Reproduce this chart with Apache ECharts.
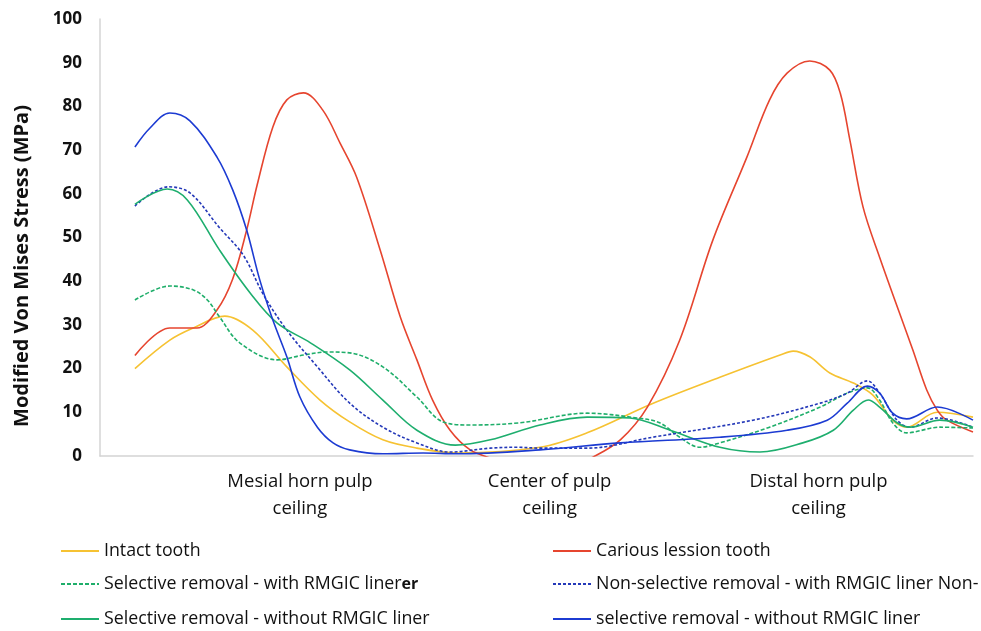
<!DOCTYPE html>
<html>
<head>
<meta charset="utf-8">
<script src="https://cdn.jsdelivr.net/npm/echarts@6/dist/echarts.min.js"></script>
<style>html,body{margin:0;padding:0;background:#fff}#c{width:981px;height:631px}</style>
</head>
<body>
<div id="c"></div>
<script>
// x = relative position along the pulp ceiling (0..100), y = stress (MPa)
const categoryLabels = ['Mesial horn pulp\nceiling', 'Center of pulp\nceiling', 'Distal horn pulp\nceiling'];
const categoryPositions = [22.9, 51.5, 82.3];
const yTicks = [0, 10, 20, 30, 40, 50, 60, 70, 80, 90, 100];

const intactTooth = [[4.0,20.0],[8.0,26.5],[10.7,29.3],[14.3,32.0],[17.5,28.8],[21.4,20.4],[25.2,12.8],[28.6,7.8],[32.4,3.7],[36.3,1.8],[40.9,0.7],[50.4,2.0],[55.8,5.3],[63.3,12.0],[71.0,18.0],[77.9,23.1],[79.4,24.0],[81.3,22.7],[83.6,19.0],[86.3,16.7],[88.5,14.0],[90.8,8.2],[92.4,6.6],[95.9,10.0],[100,8.9]];
const cariousTooth = [[4.0,23.0],[8.0,29.3],[11.1,29.3],[13.4,33.4],[15.2,40.5],[16.8,51.7],[18.0,62.0],[19.8,75.3],[21.4,81.5],[23.3,83.1],[25.5,79.2],[27.5,71.6],[29.4,63.8],[32.1,47.1],[34.4,31.8],[36.3,22.0],[38.1,12.8],[40.1,5.9],[42.4,1.4],[44.7,-0.5],[50.4,-6.0],[56.5,-0.2],[59.6,3.7],[62.7,11.2],[66.4,26.5],[70.2,49.4],[74.1,68.4],[76.7,81.5],[78.7,87.6],[81.3,90.4],[83.6,88.3],[84.8,83.0],[85.9,72.3],[87.4,57.0],[89.3,45.5],[93.1,24.3],[94.7,15.1],[95.9,10.5],[97.0,8.2],[100,5.5]];
const selectiveWith = [[4.0,35.7],[8.0,38.9],[10.7,38.0],[12.3,35.7],[13.7,31.8],[16.0,25.9],[20.3,22.0],[23.3,23.1],[26.0,23.8],[28.6,23.6],[32.4,20.4],[36.3,13.5],[39.3,7.8],[42.4,7.1],[48.1,7.6],[55.8,9.8],[61.5,8.7],[64.1,7.6],[66.4,4.3],[68.7,2.0],[71.0,3.0],[76.7,6.6],[82.5,11.2],[85.6,14.4],[87.9,15.6],[89.3,12.8],[90.8,7.6],[92.4,5.3],[96.2,6.6],[100,6.4]];
const selectiveWithout = [[4.0,57.6],[7.7,61.1],[10.0,58.6],[13.7,47.1],[17.2,37.3],[20.3,30.4],[24.1,25.9],[28.6,19.7],[32.4,12.8],[36.3,5.9],[40.7,2.5],[44.7,3.7],[50.4,7.1],[55.8,8.9],[60.7,8.7],[65.3,5.9],[71.0,2.0],[75.6,0.9],[80.5,3.0],[84.0,5.9],[86.3,10.5],[88.0,12.8],[89.3,11.2],[91.3,7.6],[92.8,6.6],[96.2,8.2],[100,6.6]];
const nonSelectiveWith = [[4.0,57.2],[7.8,61.6],[10.3,60.2],[13.7,52.2],[16.4,46.0],[18.7,37.0],[21.4,28.8],[24.9,20.4],[28.6,12.1],[32.4,6.6],[36.3,3.0],[40.1,0.9],[44.7,1.8],[47.8,2.0],[50.4,1.8],[55.8,1.8],[63.3,4.3],[74.8,8.2],[82.5,12.1],[85.6,14.4],[87.9,17.2],[89.3,14.4],[91.3,8.2],[92.8,6.6],[95.9,8.7],[100,6.6]];
const nonSelectiveWithout = [[4.0,70.7],[5.7,75.0],[8.0,78.5],[10.3,76.7],[13.4,68.4],[15.2,60.9],[16.8,51.7],[18.3,40.3],[19.8,31.1],[21.4,22.7],[22.9,13.5],[24.9,6.6],[26.7,3.0],[28.6,1.4],[32.4,0.5],[37.0,0.7],[40.9,0.5],[50.4,1.4],[59.6,3.0],[71.0,4.3],[78.7,5.9],[83.3,8.2],[85.6,12.1],[87.9,16.0],[89.3,14.4],[90.8,9.8],[92.4,8.5],[95.9,11.2],[100,8.2]];

const seriesDefs = [
  {name:'Intact tooth', data:intactTooth, color:'#F6C232', type:'solid'},
  {name:'Carious lession tooth', data:cariousTooth, color:'#E6452F', type:'solid'},
  {name:'Selective removal - with RMGIC liner', data:selectiveWith, color:'#1FAE6A', type:[4,2]},
  {name:'Non-selective removal - with RMGIC liner Non-', data:nonSelectiveWith, color:'#2438B8', type:[3,2]},
  {name:'Selective removal - without RMGIC liner', data:selectiveWithout, color:'#1EAE6E', type:'solid'},
  {name:'selective removal - without RMGIC liner', data:nonSelectiveWithout, color:'#1C3BD2', type:'solid'}
];

const font = '"Open Sans", "Liberation Sans", sans-serif';
const legendPos = [
  {left:60, top:542},{left:552, top:542},
  {left:60, top:575},{left:552, top:575},
  {left:60, top:610},{left:552, top:610}
];

const chart = echarts.init(document.getElementById('c'), null, {renderer:'canvas'});
chart.setOption({
  animation:false,
  backgroundColor:'#fff',
  grid:{left:100, right:8, top:19, bottom:175, containLabel:false},
  xAxis:{
    type:'value', min:0, max:100,
    splitLine:{show:false},
    axisTick:{show:false},
    axisLine:{show:true, lineStyle:{color:'#d4d4d4', width:1.5}},
    axisLabel:{
      customValues:categoryPositions,
      formatter:function(v){ const i = categoryPositions.indexOf(v); return i >= 0 ? categoryLabels[i] : ''; },
      fontFamily:font, fontSize:18.5, color:'#111', lineHeight:27, margin:12, align:'center'
    }
  },
  yAxis:{
    type:'value', min:yTicks[0], max:yTicks[yTicks.length-1], interval:10,
    splitLine:{show:false},
    axisTick:{show:false},
    axisLine:{show:true, lineStyle:{color:'#d4d4d4', width:1.5}},
    axisLabel:{fontFamily:font, fontSize:17, fontWeight:'bold', color:'#111', margin:18}
  },
  graphic:[{
    type:'text', x:22, y:266, rotation:Math.PI/2,
    style:{text:'Modified Von Mises Stress (MPa)', fontFamily:font, fontSize:20, fontWeight:'bold', fill:'#111', align:'center', verticalAlign:'middle'}
  }],
  legend: seriesDefs.map(function(s, i){
    return {
      data:[s.name], left:legendPos[i].left, top:legendPos[i].top, padding:0,
      itemWidth:38, itemHeight:14, selectedMode:false,
      itemStyle:{opacity:0},
      textStyle:{fontFamily:font, fontSize:17.8, color:'#111', rich:{b:{fontFamily:font, fontSize:16, fontWeight:'bold', color:'#111'}}},
      formatter: i === 2 ? function(n){ return n + '{b|er}'; } : '{name}'
    };
  }),
  series: seriesDefs.map(function(s){
    return {
      name:s.name, type:'line', data:s.data, smooth:0.35, symbol:'none', showSymbol:false, clip:true,
      lineStyle:{color:s.color, width:1.6, type:s.type},
      itemStyle:{color:s.color}
    };
  })
});
</script>
</body>
</html>
